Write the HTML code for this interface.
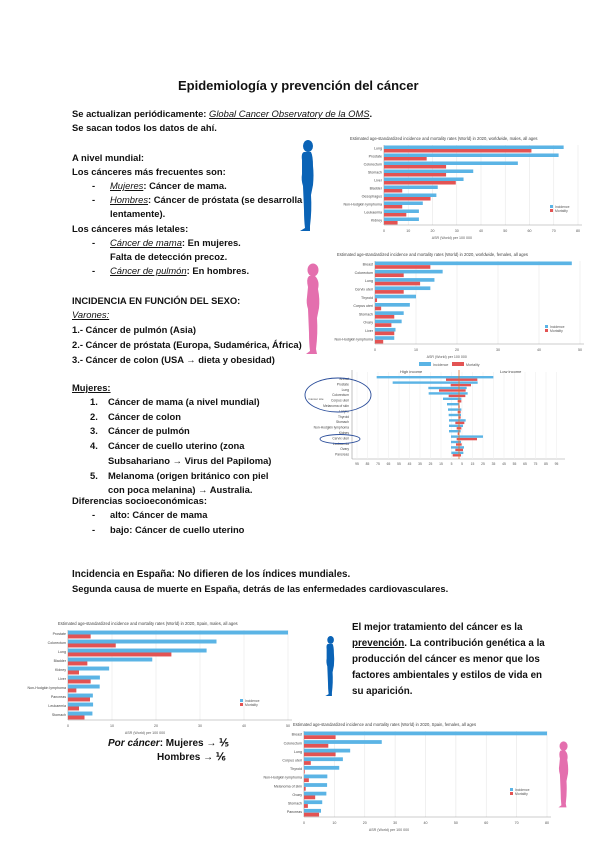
<!DOCTYPE html>
<html><head><meta charset="utf-8"><style>
body{margin:0;background:#fff;}
#p{position:relative;width:600px;height:848px;overflow:hidden;font-family:"Liberation Sans",sans-serif;color:#111;}
.t{position:absolute;font-size:9.4px;font-weight:bold;white-space:nowrap;line-height:12px;}
.u{text-decoration:underline;}
.i{font-style:italic;font-weight:normal;}
svg{position:absolute;left:0;top:0;}
</style></head><body><div id="p">
<svg id="s" width="600" height="848" viewBox="0 0 600 848"></svg>
<div class="t" style="left:178px;top:78px;font-size:13px;line-height:16px">Epidemiología y prevención del cáncer</div>
<div class="t" style="left:72px;top:108px">Se actualizan periódicamente: <span class="u i">Global Cancer Observatory de la OMS</span>.</div>
<div class="t" style="left:72px;top:122px">Se sacan todos los datos de ahí.</div>
<div class="t" style="left:72px;top:152px">A nivel mundial:</div>
<div class="t" style="left:72px;top:166px">Los cánceres más frecuentes son:</div>
<div class="t" style="left:92px;top:180px">-</div><div class="t" style="left:110px;top:180px"><span class="u i">Mujeres</span>: Cáncer de mama.</div>
<div class="t" style="left:92px;top:194px">-</div><div class="t" style="left:110px;top:194px"><span class="u i">Hombres</span>: Cáncer de próstata (se desarrolla</div>
<div class="t" style="left:110px;top:208px">lentamente).</div>
<div class="t" style="left:72px;top:223px">Los cánceres más letales:</div>
<div class="t" style="left:92px;top:237px">-</div><div class="t" style="left:110px;top:237px"><span class="u i">Cáncer de mama</span>: En mujeres.</div>
<div class="t" style="left:110px;top:251px">Falta de detección precoz.</div>
<div class="t" style="left:92px;top:265px">-</div><div class="t" style="left:110px;top:265px"><span class="u i">Cáncer de pulmón</span>: En hombres.</div>
<div class="t" style="left:72px;top:295px">INCIDENCIA EN FUNCIÓN DEL SEXO:</div>
<div class="t" style="left:72px;top:309px"><span class="u i">Varones:</span></div>
<div class="t" style="left:72px;top:324px">1.- Cáncer de pulmón (Asia)</div>
<div class="t" style="left:72px;top:339px">2.- Cáncer de próstata (Europa, Sudamérica, África)</div>
<div class="t" style="left:72px;top:354px">3.- Cáncer de colon (USA → dieta y obesidad)</div>
<div class="t" style="left:72px;top:382px"><span class="u">Mujeres:</span></div>
<div class="t" style="left:90px;top:396px">1.</div><div class="t" style="left:108px;top:396px">Cáncer de mama (a nivel mundial)</div>
<div class="t" style="left:90px;top:411px">2.</div><div class="t" style="left:108px;top:411px">Cáncer de colon</div>
<div class="t" style="left:90px;top:425px">3.</div><div class="t" style="left:108px;top:425px">Cáncer de pulmón</div>
<div class="t" style="left:90px;top:440px">4.</div><div class="t" style="left:108px;top:440px">Cáncer de cuello uterino (zona</div>
<div class="t" style="left:108px;top:455px">Subsahariano → Virus del Papiloma)</div>
<div class="t" style="left:90px;top:470px">5.</div><div class="t" style="left:108px;top:470px">Melanoma (origen británico con piel</div>
<div class="t" style="left:108px;top:484px">con poca melanina) → Australia.</div>
<div class="t" style="left:72px;top:495px">Diferencias socioeconómicas:</div>
<div class="t" style="left:92px;top:509px">-</div><div class="t" style="left:110px;top:509px">alto: Cáncer de mama</div>
<div class="t" style="left:92px;top:524px">-</div><div class="t" style="left:110px;top:524px">bajo: Cáncer de cuello uterino</div>
<div class="t" style="left:72px;top:569px;font-size:9.8px">Incidencia en España: No difieren de los índices mundiales.</div>
<div class="t" style="left:72px;top:583px">Segunda causa de muerte en España, detrás de las enfermedades cardiovasculares.</div>
<div class="t" style="left:352px;top:622px;font-size:9.8px">El mejor tratamiento del cáncer es la</div>
<div class="t" style="left:352px;top:638px;font-size:9.8px"><span class="u">prevención</span>. La contribución genética a la</div>
<div class="t" style="left:352px;top:654px;font-size:9.8px">producción del cáncer es menor que los</div>
<div class="t" style="left:352px;top:670px;font-size:9.8px">factores ambientales y estilos de vida en</div>
<div class="t" style="left:352px;top:686px;font-size:9.8px">su aparición.</div>
<div class="t" style="left:108px;top:738px;font-size:10px"><span class="i" style="font-weight:bold">Por cáncer</span>: Mujeres → ⅕</div>
<div class="t" style="left:157px;top:752px;font-size:10px">Hombres → ⅙</div>
</div>
<script>
var S=document.getElementById('s'),o='';
var B='#5bb4e5',R='#e35353';
function tx(x,y,s,sz,c,a){o+='<text x="'+x+'" y="'+y+'" font-size="'+sz+'" fill="'+(c||'#555')+'" font-family="Liberation Sans" text-anchor="'+(a||'start')+'">'+s+'</text>';}
function rc(x,y,w,h,c){o+='<rect x="'+x+'" y="'+y+'" width="'+w+'" height="'+h+'" fill="'+c+'"/>';}
function hb(x0,y0,w,h,inc,mor,lab,title,tx0,nt,leg){
 tx(tx0,y0-5,title,4.2,'#444');
 for(var k=1;k<=nt;k++){o+='<line x1="'+(x0+w*k/nt)+'" y1="'+y0+'" x2="'+(x0+w*k/nt)+'" y2="'+(y0+h)+'" stroke="#e6e6e6" stroke-width="0.6"/>';}
 o+='<line x1="'+x0+'" y1="'+y0+'" x2="'+x0+'" y2="'+(y0+h)+'" stroke="#999" stroke-width="0.6"/>';
 o+='<line x1="'+x0+'" y1="'+(y0+h)+'" x2="'+(x0+w+4)+'" y2="'+(y0+h)+'" stroke="#999" stroke-width="0.6"/>';
 var n=inc.length,b=h/n;
 for(var i=0;i<n;i++){var y=y0+i*b;rc(x0,y+b*0.06,w*inc[i],b*0.44,B);rc(x0,y+b*0.5,w*mor[i],b*0.44,R);tx(x0-2,y+b*0.55,lab[i],3.6,'#444','end');}
 for(var k=0;k<=nt;k++)tx(x0+w*k/nt,y0+h+7,String(k*10),3.6,'#555','middle');
 tx(x0+w*0.35,y0+h+14,'ASR (World) per 100 000',3.6,'#555','middle');
 rc(leg[0],leg[1],3,3,B);rc(leg[0],leg[1]+4,3,3,R);tx(leg[0]+5,leg[1]+3,'Incidence',3.4);tx(leg[0]+5,leg[1]+7,'Mortality',3.4);
}
hb(384,145,194,80,[.926,.9,.69,.46,.41,.277,.27,.2,.18,.18],[.76,.22,.32,.32,.37,.094,.24,.094,.115,.07],
 ['Lung','Prostate','Colorectum','Stomach','Liver','Bladder','Oesophagus','Non-Hodgkin lymphoma','Leukaemia','Kidney'],
 'Estimated age-standardized incidence and mortality rates (World) in 2020, worldwide, males, all ages',350,8,[550,205]);
hb(375,261,205,83,[.96,.33,.29,.27,.2,.17,.14,.13,.1,.094],[.27,.14,.22,.14,.01,.03,.094,.08,.094,.04],
 ['Breast','Colorectum','Lung','Cervix uteri','Thyroid','Corpus uteri','Stomach','Ovary','Liver','Non-Hodgkin lymphoma'],
 'Estimated age-standardized incidence and mortality rates (World) in 2020, worldwide, females, all ages',337,5,[545,325]);
hb(68,630,220,90,[1,.675,.63,.383,.187,.145,.144,.113,.114,.111],[.103,.217,.47,.088,.05,.103,.038,.1,.05,.075],
 ['Prostate','Colorectum','Lung','Bladder','Kidney','Liver','Non-Hodgkin lymphoma','Pancreas','Leukaemia','Stomach'],
 'Estimated age-standardized incidence and mortality rates (World) in 2020, Spain, males, all ages',58,5,[240,699]);
hb(304,731,243,86,[1,.32,.19,.16,.145,.096,.095,.092,.075,.07],[.13,.1,.13,.028,.003,.02,.007,.046,.016,.062],
 ['Breast','Colorectum','Lung','Corpus uteri','Thyroid','Non-Hodgkin lymphoma','Melanoma of skin','Ovary','Stomach','Pancreas'],
 'Estimated age-standardized incidence and mortality rates (World) in 2020, Spain, females, all ages',293,8,[510,788]);
// butterfly
var cx=459;
rc(419,362,12,4,B);tx(433,366,'Incidence',3.6);rc(452,362,12,4,R);tx(466,366,'Mortality',3.6);
o+='<line x1="352" y1="370" x2="352" y2="459" stroke="#999" stroke-width="0.6"/>';
o+='<line x1="352" y1="459" x2="565" y2="459" stroke="#999" stroke-width="0.6"/>';
for(var k=0;k<20;k++){var gx=357+k*10.5;o+='<line x1="'+gx+'" y1="372" x2="'+gx+'" y2="459" stroke="#eee" stroke-width="0.6"/>';tx(gx,465,String(Math.abs(95-k*10)),3.3,'#555','middle');}
tx(400,373,'High income',4,'#444');tx(500,373,'Low income',4,'#444');
var bb=[[260,610,468,562],[308,563,482,543],[415,530,447,527],[416,533,476,526],[459,514,503,514],[471,508,505,509],[474,514,503,512],[476,513,505,512],[477,527,496,523],[477,519,500,514],[477,512,503,508],[483,579,500,561],[483,513,498,515],[483,522,496,519],[484,520,488,513]];
var bl=['','Breast','Prostate','Lung','Colorectum','Corpus uteri','Melanoma of skin','Larynx','Thyroid','Stomach','Non-Hodgkin lymphoma','Kidney','Cervix uteri','Leukaemia','Ovary','Pancreas'];
for(var i=0;i<bb.length;i++){var y=376+i*5.4,a=bb[i];rc(290+a[0]/3,y,(a[1]-a[0])/3,2.4,B);rc(290+a[2]/3,y+2.5,(a[3]-a[2])/3,2.4,R);tx(349,y+4,bl[i+1]||'',3.3,'#444','end');}
o+='<line x1="'+cx+'" y1="370" x2="'+cx+'" y2="459" stroke="#e07030" stroke-width="0.8"/>';
o+='<ellipse cx="338" cy="395" rx="33" ry="17" fill="none" stroke="#2a4d9a" stroke-width="0.9"/>';
o+='<ellipse cx="340" cy="439" rx="20" ry="4.5" fill="none" stroke="#2a4d9a" stroke-width="0.9"/>';
tx(316,400,'Cancer site',3,'#555','middle');
// silhouettes
function man(x,y,s,c){o+='<g transform="translate('+x+','+y+') scale('+s+')" fill="'+c+'"><ellipse cx="10" cy="6" rx="5" ry="6"/><path d="M6 12 Q3 13 4 20 L4 34 Q3 40 5 46 L6 70 Q6 80 7 88 L2 91 L12 91 L12 86 Q14 70 13 55 L15 45 Q16 35 15 26 Q15 16 13 12 Z"/></g>';}
function wom(x,y,s,c){o+='<g transform="translate('+x+','+y+') scale('+s+')" fill="'+c+'"><ellipse cx="9" cy="7" rx="5.5" ry="6.5"/><path d="M5 13 Q2 16 4 24 L3 34 Q2 40 4 46 L5 70 Q5 80 6 88 L2 91 L13 91 L12 86 Q14 70 13 55 L15 45 Q16 36 14 26 Q16 18 11 13 Z"/></g>';}
man(298,140,1.0,'#0a63b6');wom(304,263,1.0,'#e46fae');man(324,636,0.66,'#0a63b6');wom(557,741,0.73,'#e46fae');
S.innerHTML=o;
</script>
</body></html>
